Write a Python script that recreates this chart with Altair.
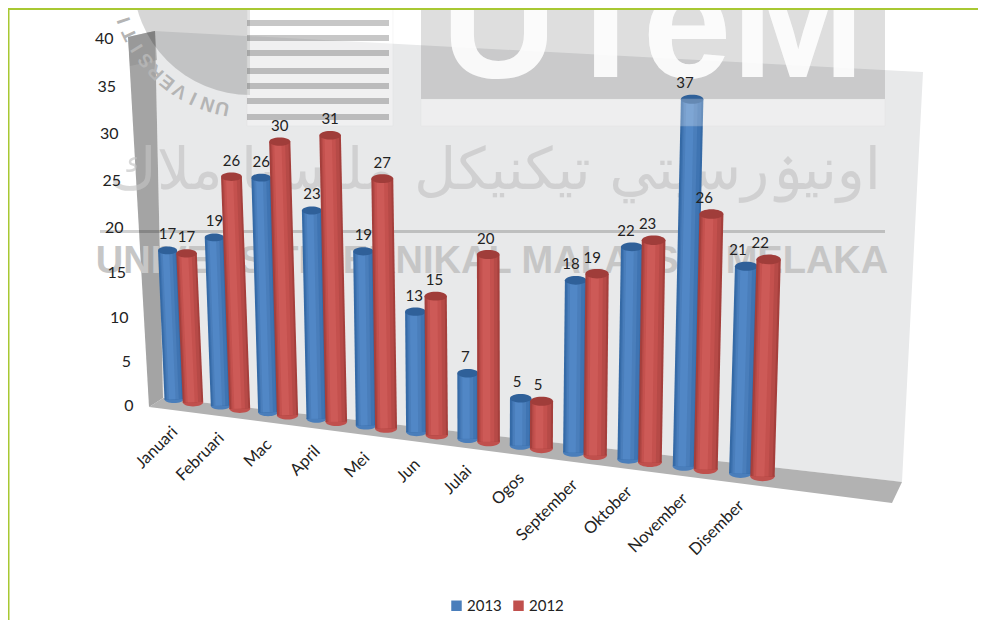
import math
import numpy as np
import pandas as pd
import altair as alt

# ---- chart values ----
months = ["Januari", "Februari", "Mac", "April", "Mei", "Jun", "Julai", "Ogos",
          "September", "Oktober", "November", "Disember"]
v2013 = [17, 19, 26, 23, 19, 13, 7, 5, 18, 22, 37, 21]
v2012 = [17, 26, 30, 31, 27, 15, 20, 5, 19, 23, 26, 22]
series_names = ["2013", "2012"]
y_ticks = [0, 5, 10, 15, 20, 25, 30, 35, 40]
base_colors = ["#4a7ebb", "#c0504d"]
shade_colors = [["#356aa6", "#3f74b2", "#4a7ebb", "#5187c6"],
                ["#a53f3c", "#b64a47", "#c4514e", "#cd5a57"]]
cap_colors = ["#2f6099", "#a03d3a"]

W, H = 970, 612
PX_PER_UNIT = 9.175
BASE_PAGE_Y = 405.0


def val(page_y):
    """Page row -> value units of the y scale."""
    return (BASE_PAGE_Y - page_y) / PX_PER_UNIT


xs = alt.Scale(domain=[8, 8 + W], range=[0, W], nice=False, zero=False)
ys = alt.Scale(domain=[val(8 + H), val(8)], range=[H, 0], nice=False, zero=False)
y_axis = alt.Axis(values=y_ticks, domain=False, ticks=False, grid=False, zindex=1,
                  labelFont="Lato", labelFontSize=16, labelColor="#222222",
                  labelAlign="right", labelBaseline="middle",
                  labelPadding={"expr": "-(125 - 0.5*datum.value)"},
                  labelOffset={"expr": "5.5*(1-pow((datum.value-20)/20,2))"})
X = lambda f: alt.X(f, type="quantitative", scale=xs, axis=None, title=None)
Y = lambda f: alt.Y(f, type="quantitative", scale=ys, axis=y_axis, title=None)


def project(values, series):
    """Perspective of the 3-D column chart: each column stands on a sloping floor and leans."""
    rows = []
    for i, (m, v) in enumerate(zip(months, values)):
        bx = 174 + 46 * i + 0.5 * i * i
        by = 403.3 + 6.4 * i + 0.03 * i * i - 4
        w = 19 + 0.35 * i
        if series == 1:
            bx += 19 + 0.27 * i
            by += 3
            w += 1.5
        s = 8.76 + 0.1 * i
        lean = -0.38 + 0.06 * i
        tx = bx + lean * v
        ty = by - s * v - 0.8 * min(max(v - 24, 0), 7.5)
        rows.append(dict(month=m, value=v, series=series_names[series],
                         bx=bx, tx=tx, by=val(by), ty=val(ty), w=w, size=w * w,
                         lx=tx - 1.2 * max(0, i - 4), ly=val(ty - 4 - 12),
                         cx=bx + 1, cy=val(by + 4 + 26),
                         w1=w * 0.82, w2=w * 0.6, w3=w * 0.34,
                         bx2=bx - 0.05 * w, tx2=tx - 0.05 * w,
                         bx3=bx - 0.09 * w, tx3=tx - 0.09 * w))
    return pd.DataFrame(rows)


def poly(vertices):
    """Convex polygon as an area: upper and lower chains sampled at all vertex columns."""
    pts = sorted(vertices)
    xsv = [p[0] for p in pts]
    a, b = pts[0], pts[-1]
    up = [p for p in pts if p in (a, b) or p[1] <= a[1] + (b[1] - a[1]) * (p[0] - a[0]) / (b[0] - a[0])]
    lo = [p for p in pts if p in (a, b) or p[1] >= a[1] + (b[1] - a[1]) * (p[0] - a[0]) / (b[0] - a[0])]
    yu = np.interp(xsv, [p[0] for p in up], [p[1] for p in up])
    yl = np.interp(xsv, [p[0] for p in lo], [p[1] for p in lo])
    return pd.DataFrame({"x": xsv, "y": [val(v) for v in yu], "y2": [val(v) for v in yl]})


def area(vertices, color, opacity=1.0):
    return alt.Chart(poly(vertices)).mark_area(color=color, opacity=opacity).encode(
        x=X("x"), y=Y("y"), y2="y2")


def rect(x0, x1, y0, y1, color, opacity=1.0, **kw):
    d = pd.DataFrame({"x": [x0], "x2": [x1], "y": [val(y0)], "y2": [val(y1)]})
    return alt.Chart(d).mark_rect(color=color, opacity=opacity, **kw).encode(
        x=X("x"), x2="x2", y=Y("y"), y2="y2")


def label(text, x, y, **kw):
    d = pd.DataFrame({"x": [x], "y": [val(y)], "t": [text]})
    return alt.Chart(d).mark_text(**kw).encode(x=X("x"), y=Y("y"), text="t:N")


layers = []

# walls
layers.append(area([(155, 31), (923, 72), (902, 482), (163, 398)], "#e8e9ea"))
layers.append(area([(128, 37), (155, 31), (163, 398), (149, 407)], "#a4a4a4"))
layers.append(area([(128, 37), (155, 31), (157, 60), (130, 66)], "#8f8f8f", 0.55))
layers.append(area([(149, 407), (163, 398), (902, 482), (892, 503)], "#b2b2b2"))

# watermark: seal, stripes, logo, Jawi and Latin name
arc_d = pd.DataFrame({"x": [250], "y": [val(-22)]})
layers.append(alt.Chart(arc_d).mark_arc(theta=math.pi, theta2=3 * math.pi / 2, outerRadius=117,
                                        color="#000000", opacity=0.16).encode(x=X("x"), y=Y("y")))
layers.append(rect(247, 393, 8, 126, "#ffffff", 0.35, stroke="#d8d8d8", strokeWidth=0.6))
for sy in [7, 23, 38, 53, 71, 86, 101, 117]:
    layers.append(rect(247, 389, max(sy - 3, 8), sy + 3, "#000000", 0.22))
for k, ch in enumerate("UNIVERSITI"):
    a = 192 + 6.6 * k
    px = 250 + 133 * math.sin(math.radians(a))
    py = -22 - 133 * math.cos(math.radians(a))
    layers.append(label(ch, px, py, font="Liberation Sans", fontWeight="bold", fontSize=19, color="#b4b4b4",
                        angle=a % 360, align="center", baseline="middle"))
layers.append(rect(421, 885, 8, 99, "#000000", 0.13))
layers.append(label("UTeM", 653, 77, font="Liberation Sans", fontWeight="bold", fontSize=160,
                    color="#ffffff", align="center", baseline="alphabetic", opacity=0.9))
layers.append(label("اونيۏرسيتي تيكنيكل مليسيا ملاك", 495, 172, font="DejaVu Sans", fontSize=58,
                    color="#c4c4c4", align="center", baseline="middle", opacity=0.65))
layers.append(rect(100, 885, 230, 233, "#000000", 0.18))
layers.append(label("UNIVERSITI TEKNIKAL MALAYSIA MELAKA", 492, 262, font="Liberation Sans",
                    fontWeight="bold", fontSize=38, color="#c6c6c6", align="center", baseline="middle"))

# cylinders
frames = [project(v2013, 0), project(v2012, 1)]
all_bars = pd.concat(frames)
ELLIPSE = "M-1,0A1,0.4,0,1,1,1,0A1,0.4,0,1,1,-1,0Z"

color_enc = alt.Color("series:N",
                      scale=alt.Scale(domain=series_names, range=base_colors),
                      legend=alt.Legend(title=None, orient="none", legendX=441, legendY=590,
                                        direction="horizontal", symbolType="square", symbolSize=110,
                                        labelFont="Lato", labelFontSize=15, labelColor="#222222",
                                        columnPadding=9, symbolStrokeWidth=0, labelOffset=3))

for idx, df in enumerate(frames):
    layers.append(alt.Chart(df).mark_point(shape=ELLIPSE, filled=True, opacity=1).encode(
        x=X("bx"), y=Y("by"), fill=color_enc,
        size=alt.Size("size:Q", scale=None, legend=None)))
    for wf, c, xa, xb in [("w", shade_colors[idx][0], "bx", "tx"),
                          ("w1", shade_colors[idx][1], "bx", "tx"),
                          ("w2", shade_colors[idx][2], "bx2", "tx2"),
                          ("w3", shade_colors[idx][3], "bx3", "tx3")]:
        layers.append(alt.Chart(df).mark_rule(color=c, opacity=1).encode(
            x=X(xa), x2=xb, y=Y("by"), y2="ty",
            size=alt.Size(f"{wf}:Q", scale=None, legend=None)))
    layers.append(alt.Chart(df).mark_point(shape=ELLIPSE, filled=True, opacity=1, color=cap_colors[idx]).encode(
        x=X("tx"), y=Y("ty"), size=alt.Size("size:Q", scale=None, legend=None)))

# pale frame of the logo lies over the tallest column
layers.append(rect(421, 885, 99, 126, "#ffffff", 0.26, stroke="#dcdcdc", strokeWidth=0.6))

# texts
layers.append(alt.Chart(all_bars).mark_text(font="Lato", fontSize=15, color="#222222",
                                            align="center", baseline="middle").encode(
    x=X("lx"), y=Y("ly"), text="value:Q"))
layers.append(alt.Chart(frames[0]).mark_text(font="Lato", fontSize=16.5, color="#222222", angle=315,
                                             align="right", baseline="middle").encode(
    x=X("cx"), y=Y("cy"), text="month:N"))

# page rules
layers.append(alt.Chart(pd.DataFrame({"x": [8], "x2": [978], "y": [val(9)]})).mark_rule(
    color="#a8c832", strokeWidth=2).encode(x=X("x"), x2="x2", y=Y("y")))
layers.append(alt.Chart(pd.DataFrame({"x": [8.5], "y": [val(8)], "y2": [val(620)]})).mark_rule(
    color="#a8c832", strokeWidth=2).encode(x=X("x"), y=Y("y"), y2="y2"))

chart = alt.layer(*layers).resolve_scale(x="shared", y="shared").properties(
    width=W, height=H, padding=0, autosize=alt.AutoSizeParams(type="none"),
    background="#ffffff",
).configure_view(stroke=None)

chart.save("out.html", embed_options={"renderer": "svg", "actions": False})
